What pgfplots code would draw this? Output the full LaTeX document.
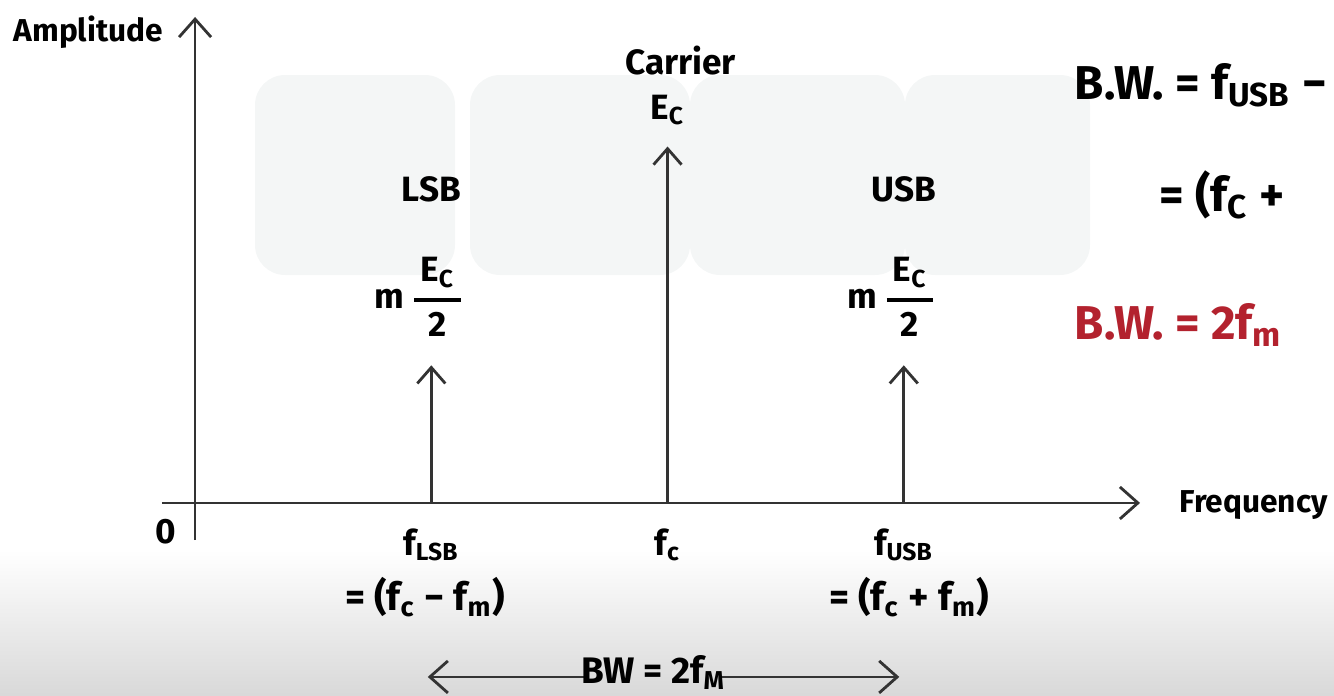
\documentclass[border=0pt]{standalone}
\usepackage{pgfplots}
\pgfplotsset{compat=1.18}
\usetikzlibrary{arrows.meta}
\usepackage{fontspec}
\setmainfont{Fira Sans}
\definecolor{ink}{HTML}{1E1E1E}
\definecolor{lineink}{HTML}{333333}
\definecolor{redink}{HTML}{B3222E}
\definecolor{wm}{HTML}{F4F6F6}
\newcommand{\halfEc}{m\,$\displaystyle{\mbox{\,E\textsubscript{C}\,}\above 1pt\mbox{2}}$}
\begin{document}
\begin{tikzpicture}[lab/.style={font=\bfseries\fontsize{10}{12}\selectfont}]
\useasboundingbox (0,0) rectangle (13.34,6.95);
% background: light shading at the bottom, faint watermark tiles
\shade[top color=white, bottom color=black!15] (0,0) rectangle (13.34,1.45);
\fill[wm, rounded corners=0.3cm] (2.55,4.20) rectangle (4.55,6.20);
\fill[wm, rounded corners=0.3cm] (4.70,4.20) rectangle (6.90,6.20);
\fill[wm, rounded corners=0.3cm] (6.90,4.20) rectangle (9.05,6.20);
\fill[wm, rounded corners=0.3cm] (9.05,4.20) rectangle (10.90,6.20);
\begin{axis}[
  at={(1.62cm,1.55cm)}, anchor=south west,
  width=9.78cm, height=5.23cm, scale only axis,
  xmin=-0.140, xmax=4.0, ymin=-0.105, ymax=1.377,
  axis lines=middle, xtick=\empty, ytick=\empty,
  axis line style={lineink, line width=0.8pt, -{Straight Barb[length=1.8mm,width=3.2mm]}},
  clip=false,
  every node/.append style={text=ink},
]
% spectral lines: LSB, carrier, USB
\addplot[lineink, line width=0.8pt, -{Straight Barb[length=1.6mm,width=2.8mm]}] coordinates {(1,0) (1,0.39)};
\addplot[lineink, line width=0.8pt, -{Straight Barb[length=1.6mm,width=2.8mm]}] coordinates {(2,0) (2,1.01)};
\addplot[lineink, line width=0.8pt, -{Straight Barb[length=1.6mm,width=2.8mm]}] coordinates {(3,0) (3,0.39)};

\node[font=\bfseries\fontsize{9}{11}\selectfont] at (axis cs:-0.452,1.334) {Amplitude};
\node[font=\bfseries\fontsize{9}{11}\selectfont, anchor=west, inner sep=0pt] at (axis cs:4.165,-0.006) {Frequency};
\node[lab] at (axis cs:-0.123,-0.082) {0};

\node[lab] at (axis cs:2.055,1.255) {Carrier};
\node[lab] at (axis cs:2,1.113) {E\textsubscript{C}};
\node[lab] at (axis cs:1,0.890) {LSB};
\node[lab] at (axis cs:3,0.890) {USB};
\node[lab] at (axis cs:0.951,0.584) {\halfEc};
\node[lab] at (axis cs:2.951,0.584) {\halfEc};

\node[lab] at (axis cs:1,-0.119) {f\textsubscript{LSB}};
\node[lab] at (axis cs:2,-0.119) {f\textsubscript{c}};
\node[lab] at (axis cs:3,-0.119) {f\textsubscript{USB}};
\node[font=\bfseries\fontsize{11}{13}\selectfont] at (axis cs:0.973,-0.266) {= (f\textsubscript{c} − f\textsubscript{m})};
\node[font=\bfseries\fontsize{11}{13}\selectfont] at (axis cs:3.023,-0.266) {= (f\textsubscript{c} + f\textsubscript{m})};

% bandwidth arrow
\draw[lineink, line width=0.8pt, {Straight Barb[length=1.8mm,width=3.2mm]}-] (axis cs:0.985,-0.493) -- (axis cs:1.649,-0.493);
\draw[lineink, line width=0.8pt, -{Straight Barb[length=1.8mm,width=3.2mm]}] (axis cs:2.228,-0.493) -- (axis cs:2.981,-0.493);
\node[font=\bfseries\fontsize{10.5}{13}\selectfont] at (axis cs:1.94,-0.48) {BW = 2f\textsubscript{M}};

% right-hand working
\node[anchor=west, inner sep=0pt, font=\bfseries\fontsize{13.5}{16}\selectfont] at (axis cs:3.721,1.184) {B.W. = f\textsubscript{USB} −};
\node[anchor=west, inner sep=0pt, font=\bfseries\fontsize{13.5}{16}\selectfont] at (axis cs:4.080,0.873) {= (f\textsubscript{C} +};
\node[anchor=west, inner sep=0pt, font=\bfseries\fontsize{13.5}{16}\selectfont, text=redink] at (axis cs:3.721,0.504) {B.W. = 2f\textsubscript{m}};
\end{axis}
\end{tikzpicture}
\end{document}
